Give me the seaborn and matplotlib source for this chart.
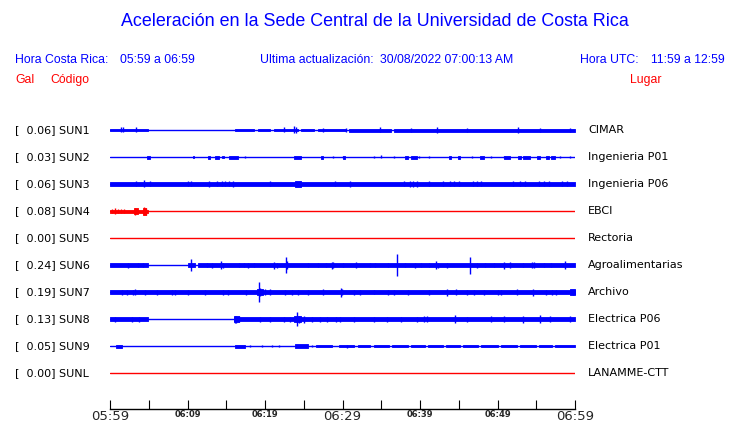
"""
Acelerogramas de la red SUN (Sede Central UCR) — una hora de registro.
Cada traza se dibuja como línea base + envolvente (segmentos) + picos.
"""

import numpy as np
import pandas as pd
import matplotlib
matplotlib.use("Agg")
import matplotlib.pyplot as plt
import seaborn as sns

# ---------------------------------------------------------------------------
# Datos. Tiempo en minutos desde 05:59,
# amplitud = media altura de la traza en píxeles.
# ---------------------------------------------------------------------------
codes = ["SUN1", "SUN2", "SUN3", "SUN4", "SUN5",
         "SUN6", "SUN7", "SUN8", "SUN9", "SUNL"]
places = ["CIMAR", "Ingenieria P01", "Ingenieria P06", "EBCI", "Rectoria",
          "Agroalimentarias", "Archivo", "Electrica P06", "Electrica P01",
          "LANAMME-CTT"]
pga = [0.06, 0.03, 0.06, 0.08, 0.00, 0.24, 0.19, 0.13, 0.05, 0.00]
trace_colors = ["blue", "blue", "blue", "red", "red",
                "blue", "blue", "blue", "blue", "red"]

tick_minutes = [0, 10, 20, 30, 40, 50, 60]
tick_labels = ["05:59", "06:09", "06:19", "06:29", "06:39", "06:49", "06:59"]
big_ticks = ["05:59", "06:29", "06:59"]

# (inicio, fin, media amplitud)
sun1_body = [(0, 4.9, 1.3), (16.1, 18.6, 1.3), (19.1, 20.7, 1.3), (21.2, 24.2, 1.3),
             (24.6, 26.3, 1.3), (26.8, 30.5, 1.3), (30.8, 36.2, 1.5), (36.6, 60, 1.5)]
sun2_body = [(4.8, 5.1, 1.5), (10.7, 10.9, 1), (12.6, 12.9, 1.5), (13.6, 14.0, 1.5),
             (14.5, 14.7, 1), (15.3, 16.5, 1.5), (23.8, 24.7, 1.5), (27.2, 27.5, 1.5),
             (30.0, 30.3, 1.5), (38.1, 38.4, 1.5), (38.8, 39.6, 1.5), (43.8, 44.0, 1.5),
             (44.9, 45.2, 1.5), (47.8, 48.2, 1.5), (50.9, 51.6, 1.5), (52.6, 53.0, 1.5),
             (53.3, 54.2, 1.5), (55.1, 55.5, 1.5), (56.2, 56.6, 1.5), (56.9, 57.4, 1.5)]
sun3_body = [(0, 60, 2.0), (23.9, 24.7, 3.0)]
sun4_body = [(0, 4.9, 1.5), (3.1, 3.6, 3.0), (4.2, 4.7, 3.5)]
sun5_body = []
sun6_body = [(0, 4.9, 1.7), (10.0, 11.0, 2.0), (11.4, 60, 1.8)]
sun7_body = [(0, 60, 2.0), (19.0, 19.8, 3.0), (59.3, 60, 3.0)]
sun8_body = [(0, 4.9, 1.7), (16.0, 60, 2.0), (16.0, 16.7, 3.0), (23.8, 24.6, 3.0)]
sun9_body = [(0.8, 1.5, 1.5), (16.1, 17.4, 1.5), (23.9, 25.6, 1.8), (26.6, 28.7, 1.2),
             (29.5, 31.5, 1.3), (32.0, 33.5, 1.3), (34.1, 36.0, 1.3), (36.4, 38.5, 1.3),
             (38.9, 40.6, 1.3), (41.0, 43.0, 1.3), (43.4, 45.2, 1.3), (45.6, 47.5, 1.3),
             (47.9, 50.0, 1.3), (50.4, 52.5, 1.3), (52.9, 55.0, 1.3), (55.4, 57.0, 1.3),
             (57.4, 60, 1.3)]
sunl_body = []

# (minuto, media amplitud)
sun1_spikes = [(1.4, 2.5), (1.7, 2.5), (3.4, 2.5), (22.4, 2.5), (23.8, 3.5), (24.0, 3.0),
               (27.5, 2), (30.4, 2), (34.8, 2.5), (38.8, 2), (42.2, 3), (46.0, 2),
               (52.7, 3), (55.5, 2), (59.4, 2)]
sun2_spikes = [(17.4, 1), (28.8, 1), (30.1, 1), (34.0, 1), (35.0, 1.5), (36.6, 1),
               (39.9, 1), (41.1, 1), (46.7, 1), (49.2, 1), (50.8, 1), (58.0, 1), (59.4, 1)]
sun3_spikes = [(3.4, 2.5), (4.4, 3.5), (5.1, 2.5), (10.1, 2.5), (10.4, 2.5), (12.8, 3),
               (13.8, 2.5), (14.5, 2.5), (14.8, 2.5), (15.3, 2.5), (15.9, 3), (20.6, 2.5),
               (29.0, 2.5), (31.0, 3), (37.9, 2.5), (38.7, 3), (39.1, 3), (39.6, 3),
               (41.1, 2.5), (43.0, 2.5), (43.9, 2.5), (44.4, 2.5), (45.0, 2.5), (46.9, 2.5),
               (47.4, 2.5), (47.9, 2.5), (52.0, 2.5), (52.9, 2.5), (53.6, 2.5), (55.3, 2.5),
               (56.0, 2.5), (56.6, 2.5), (58.3, 2.5), (59.0, 2.5)]
sun4_spikes = [(0.3, 2), (0.6, 3), (1.0, 2), (1.4, 2), (1.8, 2), (3.2, 3.5), (4.4, 4),
               (4.6, 3.5)]
sun5_spikes = []
sun6_spikes = [(2.3, 2.5), (3.6, 2), (4.2, 2), (10.4, 6.3), (12.5, 2), (13.2, 2.5),
               (14.3, 4), (14.6, 2.5), (16.6, 2), (17.3, 2), (17.8, 2.5), (18.6, 2),
               (21.1, 3.5), (21.5, 2.5), (22.7, 8), (22.9, 4), (25.6, 2), (26.9, 2),
               (27.9, 2), (28.6, 3.5), (28.8, 3), (30.1, 2), (31.8, 3), (33.6, 2),
               (34.2, 2), (35.9, 2), (37.0, 11), (38.0, 2), (39.4, 2.5), (40.1, 2),
               (41.2, 2), (42.1, 4), (42.3, 2.5), (43.5, 2.5), (46.5, 8.5), (47.3, 2.5),
               (48.4, 2), (49.5, 2), (50.9, 3.5), (51.6, 3), (53.3, 2), (54.4, 3),
               (54.7, 3), (56.0, 2), (56.9, 2), (58.7, 4)]
sun7_spikes = [(1.5, 2.5), (2.2, 2.5), (3.0, 2.5), (3.2, 3), (4.5, 2.5), (6.0, 2.5),
               (8.0, 2.5), (8.4, 2.5), (10.1, 2.5), (12.3, 2.5), (14.6, 2.5), (15.2, 2.5),
               (17.6, 2.5), (19.2, 10), (19.4, 4), (20.0, 3), (20.6, 3), (22.6, 2.5),
               (23.5, 2.5), (24.3, 2.5), (25.6, 2.5), (27.5, 3), (29.8, 4.5), (29.9, 3),
               (31.5, 2.5), (32.2, 2.5), (34.0, 2), (35.9, 2.5), (36.7, 2.5), (38.5, 2.5),
               (41.2, 2.5), (43.5, 3.5), (44.7, 3), (46.0, 2.5), (47.0, 2.5), (48.3, 2.5),
               (50.1, 2.5), (50.5, 2.5), (52.5, 3), (54.6, 3.5), (56.2, 2.5), (57.0, 2.5),
               (57.6, 2.5), (59.7, 2.5)]
sun8_spikes = [(0.6, 2.5), (2.8, 2.5), (3.7, 2.5), (16.1, 3.5), (16.3, 3.5), (16.6, 3),
               (19.3, 2.5), (20.6, 2.5), (22.5, 2.5), (23.2, 2.5), (24.1, 7.3), (24.4, 3.5),
               (25.0, 3.5), (26.0, 2.5), (27.1, 2.5), (28.0, 2.5), (29.2, 2.5), (29.7, 2.5),
               (31.5, 2.5), (34.0, 2.5), (35.7, 2.5), (37.5, 2.5), (39.6, 2.5), (40.5, 3),
               (40.9, 3), (44.5, 4), (46.0, 2.5), (49.2, 3), (50.9, 3), (53.3, 3.5),
               (55.5, 4), (56.8, 3), (59.4, 3)]
sun9_spikes = [(18.1, 1), (19.6, 1), (20.9, 1), (21.8, 1), (26.0, 1.2), (30.6, 1.5)]
sunl_spikes = []

bodies = [sun1_body, sun2_body, sun3_body, sun4_body, sun5_body,
          sun6_body, sun7_body, sun8_body, sun9_body, sunl_body]
spikes = [sun1_spikes, sun2_spikes, sun3_spikes, sun4_spikes, sun5_spikes,
          sun6_spikes, sun7_spikes, sun8_spikes, sun9_spikes, sunl_spikes]

# ---------------------------------------------------------------------------
# Figura
# ---------------------------------------------------------------------------
sns.set_style("white")
plt.rcParams["font.family"] = ["DejaVu Sans"]

W, H = 740, 423
fig = plt.figure(figsize=(W / 100, H / 100), dpi=100)
# eje en coordenadas de píxel: x 110..575, y 115..409
ax = fig.add_axes([110 / W, (H - 409) / H, 465 / W, (409 - 115) / H])

row_y = [130 + 27 * i for i in range(len(codes))]

# líneas base con seaborn
base = pd.DataFrame({
    "station": np.repeat(codes, 2),
    "minute": [0, 60] * len(codes),
    "y": np.repeat(row_y, 2),
})
sns.lineplot(data=base, x="minute", y="y", hue="station",
             palette=dict(zip(codes, trace_colors)), linewidth=1.0,
             legend=False, ax=ax)

for y0, col, body, spk in zip(row_y, trace_colors, bodies, spikes):
    for s, e, a in body:
        ax.fill_between([s, e], y0 - a, y0 + a, color=col, lw=0.6)
    if spk:
        m = [p[0] for p in spk]
        a = np.array([p[1] for p in spk])
        ax.vlines(m, y0 - a, y0 + a, color=col, lw=1.0)

ax.set_xlim(0, 60)
ax.set_ylim(409, 115)
ax.set_xlabel("")
ax.set_ylabel("")
ax.set_yticks([])
for sp in ["top", "left", "right"]:
    ax.spines[sp].set_visible(False)
ax.spines["bottom"].set_color("black")
ax.spines["bottom"].set_linewidth(1.0)
ax.set_xticks(range(0, 61, 5))
ax.set_xticklabels([tick_labels[tick_minutes.index(t)] if t in tick_minutes else ""
                    for t in range(0, 61, 5)])
ax.tick_params(axis="x", direction="in", length=6.5, width=0.8, color="black",
               pad=0.5, bottom=True)
for lab in ax.get_xticklabels():
    if lab.get_text() in big_ticks:
        lab.set_fontsize(9.5)
    else:
        lab.set_fontsize(6)
        lab.set_fontweight("bold")

# ---------------------------------------------------------------------------
# Textos
# ---------------------------------------------------------------------------
def ftext(x, y, s, **kw):
    fig.text(x / W, 1 - y / H, s, va="center", **kw)

head = dict(family=["Liberation Sans", "DejaVu Sans"], fontsize=8.8)
ftext(375, 22, "Aceleración en la Sede Central de la Universidad de Costa Rica",
      ha="center", color="blue", family=["Liberation Sans", "DejaVu Sans"], fontsize=12.9)
ftext(15, 60, "Hora Costa Rica:", color="blue", **head)
ftext(120, 60, "05:59 a 06:59", color="blue", **head)
ftext(260, 60, "Ultima actualización:", color="blue", **head)
ftext(380, 60, "30/08/2022 07:00:13 AM", color="blue", **head)
ftext(580, 60, "Hora UTC:", color="blue", **head)
ftext(651, 60, "11:59 a 12:59", color="blue", **head)
ftext(15, 80, "Gal", color="red", **head)
ftext(50, 80, "Código", color="red", **head)
ftext(630, 80, "Lugar", color="red", **head)

for y0, code, place, g in zip(row_y, codes, places, pga):
    ftext(15, y0, f"[  {g:.2f}] {code}", color="black", fontsize=8)
    ftext(588, y0, place, color="black", fontsize=8)

fig.savefig("out.png", dpi=100, facecolor="white")
